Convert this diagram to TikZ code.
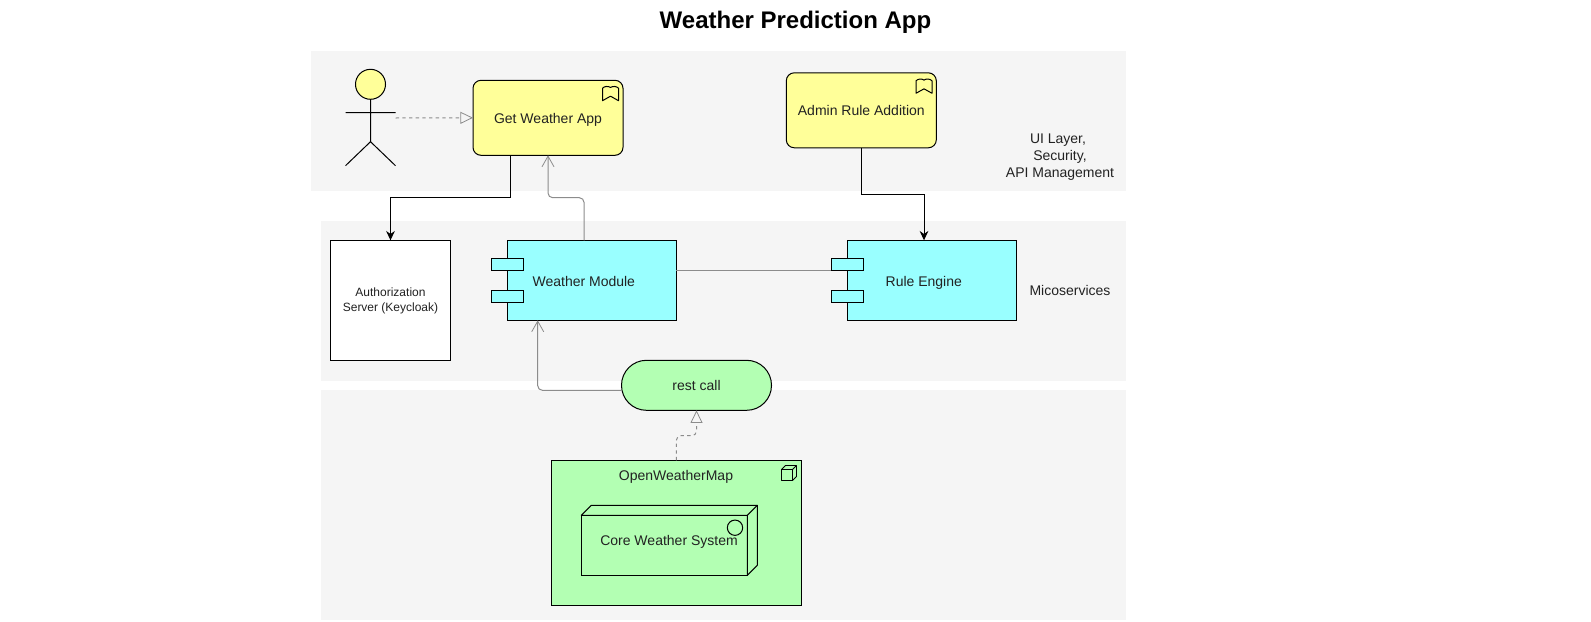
\documentclass[tikz,border=0pt]{standalone}
\usepackage{fontspec}
\setmainfont{Liberation Sans}
\usetikzlibrary{arrows.meta}
\definecolor{band}{HTML}{F5F5F5}
\definecolor{appyellow}{HTML}{FFFF99}
\definecolor{appcyan}{HTML}{99FFFF}
\definecolor{appgreen}{HTML}{B3FFB3}
\definecolor{txt}{HTML}{222222}
\definecolor{conn}{HTML}{8C8C8C}
\newcommand{\lowered}[2]{\raisebox{-#1}[\height][\depth]{#2}}
\tikzset{
  x=0.75pt,y=-0.75pt,
  every node/.style={inner sep=0pt,outer sep=0pt,font=\fontsize{10.5pt}{12.6pt}\selectfont,text=txt},
  edge/.style={draw=black,line width=0.75pt},
  bandbox/.style={fill=band,draw=none,anchor=north west},
  appbox/.style={edge,fill=appyellow,rounded corners=6pt,minimum width=112.5pt,minimum height=56.25pt},
  compbox/.style={edge,fill=appcyan,minimum width=126.75pt,minimum height=60pt},
  portbox/.style={edge,fill=appcyan,minimum width=24pt,minimum height=9pt},
  txtlabel/.style={align=center},
  blackconn/.style={draw=black,line width=0.75pt,-{Stealth[length=7pt,width=6.5pt]}},
  openconn/.style={draw=conn,line width=0.75pt,rounded corners=3.5pt,-{Straight Barb[length=8pt,width=9pt,line width=0.6pt]}},
  dashconn/.style={draw=conn,line width=0.75pt,dash pattern=on 2.5pt off 2.5pt,rounded corners=3.5pt,-{Triangle[open,length=9.5pt,width=9pt,line width=0.6pt]}},
  bookicon/.pic={\draw[draw=black,line width=0.75pt,line join=round]
    (0,15) -- (0,2.5) .. controls (2,0.3) and (6,0.3) .. (8,1.8)
    .. controls (10,0.3) and (14,0.3) .. (16,2.5) -- (16,15)
    -- (8,10.5) -- cycle;},
}
\begin{document}
\begin{tikzpicture}
\useasboundingbox (0,0) rectangle (1591,621);
% bands
\node[bandbox,minimum width=611.5pt,minimum height=105pt] (band1) at (310.7,50.5) {};
\node[bandbox,minimum width=604pt,minimum height=120pt] (band2) at (320.7,220.5) {};
\node[bandbox,minimum width=604pt,minimum height=172.5pt] (band3) at (320.7,390.3) {};
% title
\node[font=\fontsize{18pt}{21pt}\selectfont\bfseries,text=black] (title) at (795.5,22.5) {Weather Prediction App};
% actor
\node[edge,circle,fill=appyellow,minimum size=22.5pt] (head) at (370.5,84.3) {};
\coordinate (arml) at (345.5,112.7);
\coordinate (armr) at (395.5,112.7);
\coordinate (hip) at (370.5,141.7);
\coordinate (legl) at (345.5,165.7);
\coordinate (legr) at (395.5,165.7);
\draw[edge] (head.south) -- (hip) (arml) -- (armr) (legl) -- (hip) -- (legr);
% apps
\node[appbox] (gwa) at (548,117.8) {\lowered{1.5pt}{Get Weather App}};
\node[appbox] (ara) at (861.3,110.3) {Admin Rule Addition};
\pic at (602.5,85.7) {bookicon};
\pic at (916,78.3) {bookicon};
% auth
\node[edge,fill=white,minimum width=90pt,minimum height=90pt] (auth) at (390.5,300.3) {};
\node[align=center,font=\fontsize{9pt}{11.4pt}\selectfont] (autht) at (390.5,301) {Authorization\\Server (Keycloak)};
% components
\node[compbox] (wm) at (591.8,280.3) {\hspace*{-12pt}\lowered{0.75pt}{Weather Module}};
\node[portbox] (wmp1) at (507.3,264.3) {};
\node[portbox] (wmp2) at (507.3,296.3) {};
\node[compbox] (re) at (931.8,280.3) {\hspace*{-12pt}\lowered{2pt}{Rule Engine}};
\node[portbox] (rep1) at (847.3,264.3) {};
\node[portbox] (rep2) at (847.3,296.3) {};
% rest call
\node[edge,fill=appgreen,rounded corners=18.7pt,minimum width=112.5pt,minimum height=37.5pt] (rest) at (696.5,385.3) {rest call};
% OpenWeatherMap
\node[edge,fill=appgreen,minimum width=187.5pt,minimum height=108.75pt] (owm) at (676.5,532.8) {};
\node (owmt) at (676,477) {OpenWeatherMap};
\coordinate (cbA) at (781.5,469.5);
\draw[edge,line width=0.7pt,line join=round] (cbA) rectangle ++(11,11) (cbA) -- ++(4,-4) -- ++(11,0) -- ++(0,11) -- ++(-4,4) (cbA) ++(11,0) -- ++(4,-4);
% core node
\node[edge,fill=appgreen,minimum width=124.5pt,minimum height=45pt] (core) at (664.3,545.3) {};
\draw[edge,fill=appgreen,line join=round] (core.north west) -- ++(10,-10) -- ++(166,0) -- ++(0,60) -- (core.south east) -- (core.north east) -- cycle;
\draw[edge] (core.north east) -- ++(10,-10);
\node[edge,circle,minimum size=11.5pt] (corec) at (735,527.7) {};
\node (coret) at (669,542) {Core Weather System};
% side labels
\node[txtlabel,font=\fontsize{10.5pt}{12.6pt}\selectfont] (lbl1) at (1060,157.3) {UI Layer,\hspace*{3pt}\\Security,\hspace*{3pt}\\API Management};
\node (lbl2) at (1070,290) {Micoservices};
% connectors
\coordinate (aw) at (395.7,118);
\draw[dashconn] (aw) -- (gwa.west);
\coordinate (c1) at (510.3,197.7);
\draw[blackconn] (gwa.south -| c1) -- (c1) -- (c1 -| auth.north) -- (auth.north);
\coordinate (c2) at (584,197.7);
\draw[openconn] (wm.north -| c2) -- (c2) -- (gwa.south |- c2) -- (gwa.south);
\coordinate (c3) at (924,194);
\draw[blackconn] (ara.south) -- (ara.south |- c3) -- (c3) -- (c3 |- re.north);
\draw[draw=conn,line width=0.75pt] (wm.east |- rep1.south) -- (rep1.south west);
\coordinate (c4) at (537.7,390.3);
\draw[openconn] (rest.west |- c4) -- (c4) -- (c4 |- wm.south);
\coordinate (c5) at (676.3,435.7);
\draw[dashconn] (owm.north -| c5) -- (c5) -- (c5 -| rest.south) -- (rest.south);
\end{tikzpicture}
\end{document}
